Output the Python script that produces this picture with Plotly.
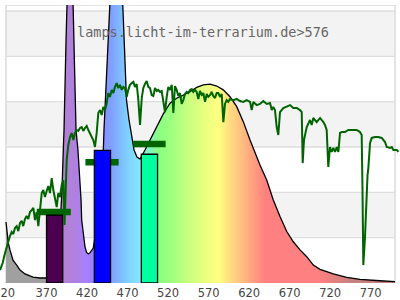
import plotly.graph_objects as go

# ---- data ----
lamp_nm = [320, 322.8, 324.9, 328.6, 333.2, 337.3, 343.4, 353.3, 362, 369.4, 375, 380, 385, 389,
           390.7, 391.6, 394, 394.4, 396, 398.5, 401, 402.7, 403.3, 406.4, 408.8, 411.3, 412.6, 413.4,
           415.5, 417.5, 419.5, 421.6, 424, 427.7, 432, 436, 440.1, 440.9, 444.6, 446.2, 450, 455,
           460, 464, 465.6, 468.7, 471.8, 475.5, 478.0, 481.6, 485.4, 491.5, 497.7, 503.9, 510.0,
           514.1, 522.4, 530.6, 538.8, 547.0, 555.3, 563.5, 571.7, 580.0, 588.1, 596.4, 604.7,
           612.8, 621.1, 629.4, 633.4, 641.7, 649.8, 658.1, 666.4, 674.5, 682.8, 691.1, 699.2,
           707.5, 723.9, 740.4, 756.8, 781.5, 800]
lamp_val = [26.9, 17.7, 14.6, 10.1, 7.9, 5.7, 4.0, 2.6, 2.2, 2.2, 3, 6, 15, 40,
            58.7, 67.5, 105.9, 122.7, 150, 165, 150, 122.7, 107.2, 67.5, 58.7, 45.4, 36.6, 27.8,
            20.0, 15.9, 13.5, 12.8, 13.5, 15.4, 25, 40, 58.7, 67.5, 105.9, 122.7, 160, 175,
            160, 122.7, 105.9, 80.7, 71.9, 63.1, 58.7, 55.6, 54.7, 58.7, 63.1, 67.1, 71.9,
            74.6, 79.3, 81.5, 82.9, 84.4, 86.3, 87.4, 87.7, 86.9, 85.2, 82.2, 77.8,
            71.2, 63.1, 55.2, 52.1, 45.4, 36.6, 29.3, 22.7, 18.2, 14.6, 11.6, 7.9,
            6.0, 4.0, 2.5, 1.6, 1.0, 0.6]

sun_nm = [312.6, 315.9, 318.8, 321.6, 324.9, 327.0, 329.0, 331.1, 333.2, 335.2, 337.3, 339.4, 341.3,
          343.4, 345.5, 347.5, 349.6, 351.7, 353.7, 355.8, 357.9, 359.9, 362.0, 364.1, 366.0, 368.1,
          370.2, 372.2, 374.3, 376.4, 378.4, 380.5, 382.6, 384.5, 386.6, 388.7, 390.7, 392.2, 393.4,
          394.9, 396.9, 399.0, 401.1, 403.1, 405.1, 407.2, 409.2, 411.3, 413.4, 415.4, 417.5, 419.6,
          421.6, 423.7, 425.8, 427.7, 429.8, 431.9, 433.9, 436.0, 438.1, 440.1, 442.2, 444.3, 446.2,
          448.3, 450.4, 452.4, 454.5, 456.6, 458.6, 460.7, 462.8, 464.8, 466.8, 468.9, 470.9, 473.0,
          475.1, 477.1, 479.2, 481.3, 483.3, 485.4, 487.5, 489.4, 491.5, 493.6, 495.6, 497.7, 499.8,
          501.8, 503.9, 506.0, 507.9, 510.0, 512.1, 514.1, 516.2, 518.3, 520.3, 522.4, 524.5, 526.5,
          528.5, 530.6, 532.6, 534.7, 536.8, 538.8, 540.9, 543.0, 545.0, 547.1, 549.2, 551.1, 553.2,
          555.3, 557.3, 559.4, 561.5, 563.5, 565.6, 567.7, 569.6, 571.7, 573.8, 575.8, 577.9, 580.0,
          582.0, 584.1, 586.2, 588.2, 590.2, 592.3, 594.3, 596.4, 600.5, 604.7, 608.8, 612.8, 617.0,
          621.1, 623.2, 625.2, 629.4, 633.4, 637.5, 641.7, 645.8, 647.9, 649.8, 651.9, 654.0, 656.0,
          658.1, 662.2, 666.4, 670.5, 674.5, 678.7, 682.8, 684.9, 686.1, 687.7, 691.1, 693.0, 695.1,
          697.2, 699.2, 703.4, 705.4, 707.5, 711.6, 713.6, 715.7, 717.7, 719.8, 721.9, 723.9, 726.0,
          728.1, 730.1, 732.2, 734.3, 738.3, 742.4, 748.6, 752.8, 756.8, 758.9, 759.9, 760.9, 763.0,
          764.2, 765.1, 766.1, 767.1, 769.2, 771.3, 775.4, 779.4, 783.6, 787.7, 789.8, 793.9, 796.0,
          798.0, 802.2, 804.2]
sun_val = [5.7, 8.8, 13.2, 17.2, 20.7, 22.5, 21.6, 24.3, 25.1, 22.9, 26.5, 27.4, 25.1,
           28.2, 29.6, 28.2, 31.3, 32.2, 33.1, 27.8, 31.3, 25.1, 34.0, 39.7, 41.0, 37.9,
           40.6, 42.8, 39.7, 46.3, 41.0, 37.9, 33.5, 39.7, 37.9, 43.2, 45.4, 25.6, 36.6,
           54.3, 60.9, 64.4, 66.2, 63.1, 66.2, 67.5, 67.1, 68.4, 68.8, 67.1, 68.4, 69.3,
           67.5, 66.2, 64.4, 63.1, 60.0, 66.2, 75.0, 76.3, 74.1, 77.7, 76.3, 79.4, 83.8,
           82.1, 85.2, 83.8, 86.5, 88.2, 86.0, 87.4, 85.2, 86.5, 86.0, 82.1, 85.2, 87.4,
           88.2, 88.7, 86.5, 87.8, 80.7, 69.7, 81.6, 86.0, 87.8, 89.1, 86.5, 86.0, 82.9,
           82.5, 86.0, 84.7, 85.2, 84.3, 84.7, 79.4, 75.4, 82.1, 86.5, 85.2, 87.4, 75.0,
           86.9, 85.2, 82.5, 83.8, 79.0, 80.7, 83.4, 84.3, 83.8, 85.2, 85.6, 84.3, 85.2,
           84.3, 81.2, 84.7, 83.0, 83.8, 79.9, 83.4, 82.1, 82.9, 84.3, 82.5, 81.6, 83.8,
           83.8, 82.1, 83.4, 71.0, 79.0, 80.7, 79.9, 81.2, 80.7, 81.2, 80.3, 79.9, 80.7,
           79.9, 76.3, 79.9, 78.5, 79.0, 80.3, 79.0, 79.4, 76.3, 77.7, 76.3, 68.8, 65.3,
           75.4, 77.2, 77.7, 78.5, 77.2, 77.2, 76.3, 75.4, 52.9, 63.1, 68.8, 70.6, 71.9,
           69.7, 72.8, 71.0, 71.9, 72.8, 71.0, 69.7, 67.5, 51.2, 60.0, 57.8, 59.6, 57.8,
           60.0, 57.8, 66.2, 66.6, 66.6, 67.5, 67.5, 67.5, 66.6, 65.3, 41.0, 7.9, 20.3,
           33.5, 39.7, 47.6, 50.7, 61.8, 64.0, 64.4, 64.4, 64.0, 62.2, 60.0, 59.6, 60.0,
           58.7, 58.7, 57.8]

bar_center = [380, 439, 497]
bar_width = [20, 20, 20]
bar_value = [29.9, 58.5, 56.8]
bar_color = ['#4b0050', '#0000ff', '#00ffa0']

avg_start = [358, 418, 477]
avg_end = [400, 459, 517]
avg_value = [31.3, 53.3, 61.3]

spec_nm = [320, 384, 390, 405, 420, 430, 450, 470, 486, 508, 525, 545, 565, 582, 595, 610, 625,
           640, 705, 745, 800]
spec_col = ['#a0a0a0', '#a0a0a0', '#b482d2', '#b080e0', '#a880ff', '#9080ff', '#80a0ff',
            '#80d0ff', '#80eaff', '#88ff80', '#a0ff80', '#c8ff80', '#e8ff80', '#ffff80',
            '#ffe080', '#ffc080', '#ffa080', '#ff8080', '#ff8080', '#c88080', '#c08080']

tick_vals = [320, 370, 420, 470, 520, 570, 620, 670, 720, 770]
tick_text = ['320\u00a0', '370', '420', '470', '520', '570', '620', '670', '720', '770']

band_low = [20, 60, 100]
band_high = [40, 80, 120]
grid_vals = [20, 40, 60, 80, 100, 120]

title_text = 'lamps.licht-im-terrarium.de>576'

# ---- figure ----
X0, X1 = 320, 800
Y_TOP = 122.65
SUN_GREEN = '#006400'

lo, hi = spec_nm[0], spec_nm[-1]
colorscale = [[(w - lo) / (hi - lo), c] for w, c in zip(spec_nm, spec_col)]

fig = go.Figure()

fig.add_trace(go.Scatter(
    x=lamp_nm, y=lamp_val, mode='lines', fill='tozeroy',
    fillgradient=dict(type='horizontal', colorscale=colorscale, start=lo, stop=hi),
    line=dict(color='black', width=1.3), hoverinfo='skip', showlegend=False))

ax, ay = [], []
for s, e, v in zip(avg_start, avg_end, avg_value):
    ax += [s, e, None]
    ay += [v, v, None]
fig.add_trace(go.Scatter(x=ax, y=ay, mode='lines', line=dict(color=SUN_GREEN, width=6.5),
                         hoverinfo='skip', showlegend=False))

for c, w, v, col in zip(bar_center, bar_width, bar_value, bar_color):
    fig.add_trace(go.Scatter(
        x=[c - w / 2, c - w / 2, c + w / 2, c + w / 2, c - w / 2],
        y=[0, v, v, 0, 0], mode='lines', fill='toself', fillcolor=col,
        line=dict(color='black', width=1.3), hoverinfo='skip', showlegend=False))

fig.add_trace(go.Scatter(x=sun_nm, y=sun_val, mode='lines',
                         line=dict(color=SUN_GREEN, width=2), hoverinfo='skip', showlegend=False))

shapes = []
for a, b in zip(band_low, band_high):
    shapes.append(dict(type='rect', xref='x', yref='y', x0=X0, x1=X1, y0=a, y1=b,
                       fillcolor='#f3f3f3', line=dict(width=0), layer='below'))
for g in grid_vals:
    shapes.append(dict(type='line', xref='x', yref='y', x0=X0, x1=X1, y0=g, y1=g,
                       line=dict(color='#dddddd', width=1.3), layer='below'))
shapes.append(dict(type='rect', xref='x', yref='y', x0=X0, x1=X1, y0=0, y1=Y_TOP,
                   line=dict(color='#dcdcdc', width=1.5), fillcolor='rgba(0,0,0,0)', layer='below'))

fig.update_layout(
    width=400, height=300,
    margin=dict(l=0, r=0, t=5, b=17, autoexpand=False),
    paper_bgcolor='white', plot_bgcolor='white',
    shapes=shapes,
    xaxis=dict(range=[312.6, 806.17], showgrid=False, zeroline=False, showline=False,
               automargin=False,
               tickmode='array', tickvals=tick_vals, ticktext=tick_text,
               ticks='', ticklabelstandoff=1, ticklabeloverflow='allow',
               tickfont=dict(family='DejaVu Sans', size=11.5, color='#444444')),
    yaxis=dict(range=[0, Y_TOP], showgrid=False, zeroline=False, showline=False,
               automargin=False, showticklabels=False, ticks=''),
    annotations=[dict(text=title_text, xref='paper', yref='paper', x=0.507, y=0.903,
                      xanchor='center', yanchor='middle', showarrow=False,
                      font=dict(family='DejaVu Sans Mono', size=13.5, color='#666666'))],
)

fig.write_html('out.html')
